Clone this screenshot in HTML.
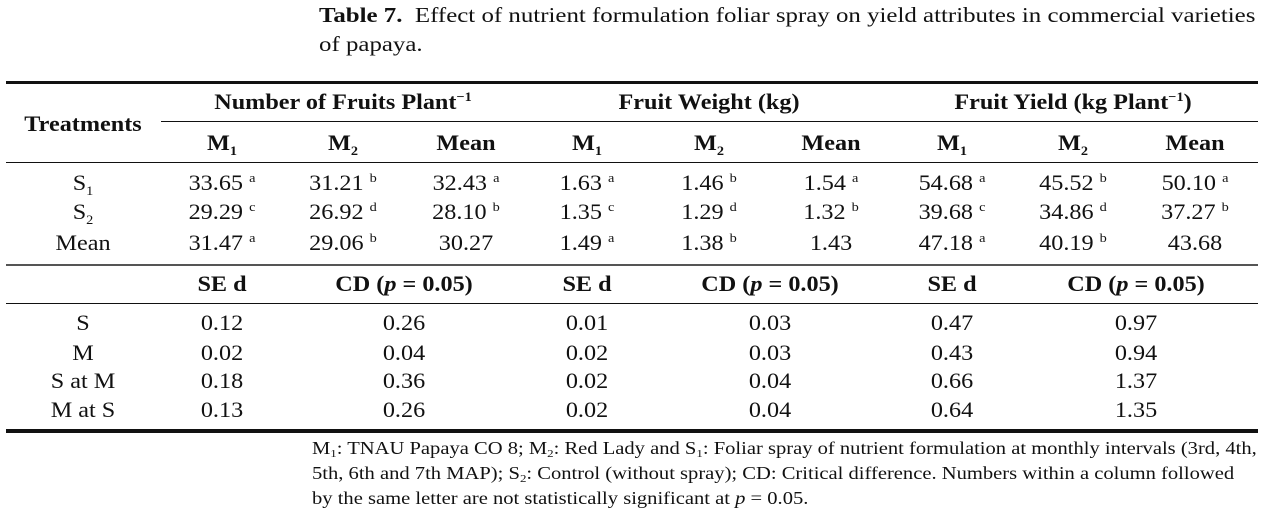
<!DOCTYPE html>
<html><head><meta charset="utf-8"><style>
body{margin:0;width:1280px;height:504px;background:#fff;position:relative;overflow:hidden;font-family:"Liberation Serif",serif;color:#111}
.t{position:absolute;white-space:nowrap;transform:translate(-50%,-50%) scaleX(1.1);font-size:22px;line-height:1}
.b{font-weight:bold}
sup{font-size:13px;vertical-align:0;position:relative;top:-8px}
sub{font-size:13px;vertical-align:0;position:relative;top:5px}
.l{position:absolute;background:#111}
.p{position:absolute;left:319px;font-size:21px;line-height:29px;white-space:nowrap;transform:scaleX(1.185);transform-origin:0 0}
.f{position:absolute;left:312px;font-size:17.5px;line-height:22px;white-space:nowrap;transform:scaleX(1.175);transform-origin:0 0}
</style></head><body>
<div class="p" style="top:1px"><b>Table 7.</b>&nbsp; Effect of nutrient formulation foliar spray on yield attributes in commercial varieties<br>of papaya.</div>

<div class="l" style="left:6px;width:1252px;top:81px;height:3px"></div>
<div class="l" style="left:161px;width:1097px;top:121px;height:1px"></div>
<div class="l" style="left:6px;width:1252px;top:162px;height:1px"></div>
<div class="l" style="left:6px;width:1252px;top:264px;height:2px;background:#555"></div>
<div class="l" style="left:6px;width:1252px;top:303px;height:1px"></div>
<div class="l" style="left:6px;width:1252px;top:429px;height:4px"></div>

<div class="t b" style="left:83px;top:124px">Treatments</div>
<div class="t b" style="left:343px;top:102px">Number of Fruits Plant<sup>−1</sup></div>
<div class="t b" style="left:709px;top:102px">Fruit Weight (kg)</div>
<div class="t b" style="left:1073px;top:102px">Fruit Yield (kg Plant<sup>−1</sup>)</div>

<div class="t b" style="left:222px;top:143px">M<sub>1</sub></div>
<div class="t b" style="left:343px;top:143px">M<sub>2</sub></div>
<div class="t b" style="left:466px;top:143px">Mean</div>
<div class="t b" style="left:587px;top:143px">M<sub>1</sub></div>
<div class="t b" style="left:709px;top:143px">M<sub>2</sub></div>
<div class="t b" style="left:831px;top:143px">Mean</div>
<div class="t b" style="left:952px;top:143px">M<sub>1</sub></div>
<div class="t b" style="left:1073px;top:143px">M<sub>2</sub></div>
<div class="t b" style="left:1195px;top:143px">Mean</div>

<div class="t" style="left:83px;top:183px">S<sub>1</sub></div>
<div class="t" style="left:222px;top:183px">33.65 <sup>a</sup></div>
<div class="t" style="left:343px;top:183px">31.21 <sup>b</sup></div>
<div class="t" style="left:466px;top:183px">32.43 <sup>a</sup></div>
<div class="t" style="left:587px;top:183px">1.63 <sup>a</sup></div>
<div class="t" style="left:709px;top:183px">1.46 <sup>b</sup></div>
<div class="t" style="left:831px;top:183px">1.54 <sup>a</sup></div>
<div class="t" style="left:952px;top:183px">54.68 <sup>a</sup></div>
<div class="t" style="left:1073px;top:183px">45.52 <sup>b</sup></div>
<div class="t" style="left:1195px;top:183px">50.10 <sup>a</sup></div>

<div class="t" style="left:83px;top:212px">S<sub>2</sub></div>
<div class="t" style="left:222px;top:212px">29.29 <sup>c</sup></div>
<div class="t" style="left:343px;top:212px">26.92 <sup>d</sup></div>
<div class="t" style="left:466px;top:212px">28.10 <sup>b</sup></div>
<div class="t" style="left:587px;top:212px">1.35 <sup>c</sup></div>
<div class="t" style="left:709px;top:212px">1.29 <sup>d</sup></div>
<div class="t" style="left:831px;top:212px">1.32 <sup>b</sup></div>
<div class="t" style="left:952px;top:212px">39.68 <sup>c</sup></div>
<div class="t" style="left:1073px;top:212px">34.86 <sup>d</sup></div>
<div class="t" style="left:1195px;top:212px">37.27 <sup>b</sup></div>

<div class="t" style="left:83px;top:243px">Mean</div>
<div class="t" style="left:222px;top:243px">31.47 <sup>a</sup></div>
<div class="t" style="left:343px;top:243px">29.06 <sup>b</sup></div>
<div class="t" style="left:466px;top:243px">30.27</div>
<div class="t" style="left:587px;top:243px">1.49 <sup>a</sup></div>
<div class="t" style="left:709px;top:243px">1.38 <sup>b</sup></div>
<div class="t" style="left:831px;top:243px">1.43</div>
<div class="t" style="left:952px;top:243px">47.18 <sup>a</sup></div>
<div class="t" style="left:1073px;top:243px">40.19 <sup>b</sup></div>
<div class="t" style="left:1195px;top:243px">43.68</div>

<div class="t b" style="left:222px;top:284px">SE d</div>
<div class="t b" style="left:404px;top:284px">CD (<i>p</i> = 0.05)</div>
<div class="t b" style="left:587px;top:284px">SE d</div>
<div class="t b" style="left:770px;top:284px">CD (<i>p</i> = 0.05)</div>
<div class="t b" style="left:952px;top:284px">SE d</div>
<div class="t b" style="left:1136px;top:284px">CD (<i>p</i> = 0.05)</div>

<div class="t" style="left:83px;top:323px">S</div>
<div class="t" style="left:222px;top:323px">0.12</div>
<div class="t" style="left:404px;top:323px">0.26</div>
<div class="t" style="left:587px;top:323px">0.01</div>
<div class="t" style="left:770px;top:323px">0.03</div>
<div class="t" style="left:952px;top:323px">0.47</div>
<div class="t" style="left:1136px;top:323px">0.97</div>

<div class="t" style="left:83px;top:353px">M</div>
<div class="t" style="left:222px;top:353px">0.02</div>
<div class="t" style="left:404px;top:353px">0.04</div>
<div class="t" style="left:587px;top:353px">0.02</div>
<div class="t" style="left:770px;top:353px">0.03</div>
<div class="t" style="left:952px;top:353px">0.43</div>
<div class="t" style="left:1136px;top:353px">0.94</div>

<div class="t" style="left:83px;top:381px">S at M</div>
<div class="t" style="left:222px;top:381px">0.18</div>
<div class="t" style="left:404px;top:381px">0.36</div>
<div class="t" style="left:587px;top:381px">0.02</div>
<div class="t" style="left:770px;top:381px">0.04</div>
<div class="t" style="left:952px;top:381px">0.66</div>
<div class="t" style="left:1136px;top:381px">1.37</div>

<div class="t" style="left:83px;top:410px">M at S</div>
<div class="t" style="left:222px;top:410px">0.13</div>
<div class="t" style="left:404px;top:410px">0.26</div>
<div class="t" style="left:587px;top:410px">0.02</div>
<div class="t" style="left:770px;top:410px">0.04</div>
<div class="t" style="left:952px;top:410px">0.64</div>
<div class="t" style="left:1136px;top:410px">1.35</div>

<div class="f" style="top:437px">M<sub style="font-size:11px;top:3px">1</sub>: TNAU Papaya CO 8; M<sub style="font-size:11px;top:3px">2</sub>: Red Lady and S<sub style="font-size:11px;top:3px">1</sub>: Foliar spray of nutrient formulation at monthly intervals (3rd, 4th,<br>5th, 6th and 7th MAP); S<sub style="font-size:11px;top:3px">2</sub>: Control (without spray); CD: Critical difference. Numbers within a column followed<br>by the same letter are not statistically significant at <i>p</i> = 0.05.</div>
</body></html>
